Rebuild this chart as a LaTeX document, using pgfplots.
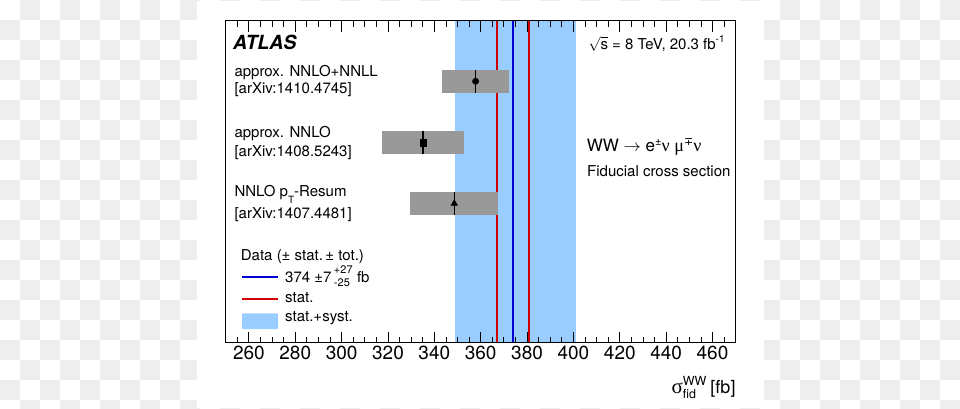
\documentclass[border=0pt]{standalone}
\usepackage{fontspec}
\setmainfont{TeX Gyre Heros}
\newfontfamily\serifsym{Liberation Serif}
\newfontfamily\dejavu{DejaVu Sans}
\usepackage{pgfplots}
\pgfplotsset{compat=1.18}
\definecolor{bandblue}{HTML}{99CCFF}
\definecolor{boxgray}{HTML}{999999}
\definecolor{rootred}{HTML}{D00000}
\definecolor{rootblue}{HTML}{0000D0}
\definecolor{checkgray}{HTML}{EEEEEE}
\newcommand{\sz}[1]{\fontsize{#1}{#1}\selectfont}
\begin{document}
\begin{tikzpicture}
\path[use as bounding box] (0pt,0pt) rectangle (960pt,408pt);
\fill[white] (0pt,0pt) rectangle (960pt,408pt);
\foreach \i in {0,...,47}{\foreach \j in {0,...,20}{%
  \pgfmathtruncatemacro\s{mod(\i+\j,2)}%
  \ifnum\s=1 \fill[checkgray] ({\i*20pt},{388pt-\j*20pt}) rectangle ++(20pt,20pt);\fi}}
\fill[white] (197pt,0pt) rectangle (764pt,407pt);
\begin{axis}[at={(225.7pt,65.3pt)}, anchor=south west, scale only axis,
  width=510pt, height=322pt,
  xmin=250, xmax=470, ymin=0, ymax=322,
  ytick=\empty, xtick={260,280,...,460}, minor xtick={250,255,...,470},
  tick align=inside, major tick length=11pt, minor tick length=6pt,
  axis on top, axis line style={line width=1pt, black},
  every tick/.style={black, line width=0.8pt},
  /pgf/number format/assume math mode=true,
  xticklabel style={font=\sz{19}},
  clip=true]
% measurement band (374 +27 -25) and stat. lines
\addplot[fill=bandblue, draw=none] coordinates {(349,0)(401,0)(401,322)(349,322)};
\addplot[rootred, line width=2pt] coordinates {(367,0)(367,322)};
\addplot[rootred, line width=2pt] coordinates {(381,0)(381,322)};
\addplot[rootblue, line width=2pt] coordinates {(374,0)(374,322)};
% theory predictions
\addplot[fill=boxgray, draw=none] coordinates {(343.4,250)(372.2,250)(372.2,272.7)(343.4,272.7)};
\addplot[fill=boxgray, draw=none] coordinates {(317.4,188.4)(352.9,188.4)(352.9,211.7)(317.4,211.7)};
\addplot[fill=boxgray, draw=none] coordinates {(329.4,127.7)(367.6,127.7)(367.6,150.7)(329.4,150.7)};
\addplot[black, line width=1.5pt] coordinates {(357.8,250)(357.8,272.7)};
\addplot[black, line width=1.5pt] coordinates {(335.2,188.4)(335.2,211.7)};
\addplot[black, line width=1.5pt] coordinates {(348.6,127.7)(348.6,150.7)};
\addplot[only marks, mark=*, mark size=3.2pt, black] coordinates {(357.8,261.4)};
\addplot[only marks, mark=square*, mark size=3.2pt, black] coordinates {(335.2,200)};
\addplot[only marks, mark=triangle*, mark size=3.8pt, black] coordinates {(348.6,139.2)};
\draw[line width=2pt] (rel axis cs:0,0) -- (rel axis cs:1,0);
\end{axis}
% texts
\node[anchor=base west, inner sep=0, font=\sz{19.5}\bfseries\itshape] at (233pt,359pt) {ATLAS};
\node[anchor=base west, inner sep=0, font=\sz{15}] at (234.3pt,331.3pt) {approx. NNLO+NNLL};
\node[anchor=base west, inner sep=0, font=\sz{15}] at (234.3pt,314.7pt) {[arXiv:1410.4745]};
\node[anchor=base west, inner sep=0, font=\sz{15}] at (234.3pt,270.3pt) {approx. NNLO};
\node[anchor=base west, inner sep=0, font=\sz{15}] at (234.3pt,252pt) {[arXiv:1408.5243]};
\node[anchor=base west, inner sep=0, font=\sz{15}] at (234.3pt,211.3pt) {NNLO p\raisebox{-6.5pt}{\sz{10}T}-Resum};
\node[anchor=base west, inner sep=0, font=\sz{15}] at (234.3pt,189.7pt) {[arXiv:1407.4481]};
\node[anchor=base west, inner sep=0, font=\sz{15}] at (588.3pt,359pt) {$\sqrt{\hbox{s}}$ = 8 TeV, 20.3 fb\raisebox{6pt}{\sz{10}-1}};
\node[anchor=base west, inner sep=0, font=\sz{17}] at (586.7pt,256.3pt) {WW $\rightarrow$ e\raisebox{6pt}{\sz{11}±}{\serifsym\sz{18}ν} {\serifsym\sz{18}μ}\raisebox{6pt}{\sz{11}\dejavu ∓}{\serifsym\sz{18}ν}};
\node[anchor=base west, inner sep=0, font=\sz{15}] at (587pt,231.3pt) {Fiducial cross section};
% legend
\node[anchor=base west, inner sep=0, font=\sz{15}] at (240.7pt,147.3pt) {Data (± stat.\,± tot.)};
\draw[rootblue, line width=2pt] (242.3pt,130.7pt) -- (277.7pt,130.7pt);
\node[anchor=base west, inner sep=0, font=\sz{15}] at (285pt,125.3pt) {374 ±7\,\makebox[0pt][l]{\raisebox{9.5pt}{\sz{11}+27}}\raisebox{-3.5pt}{\sz{11}-25}\hspace{3pt} fb};
\draw[rootred, line width=2pt] (242.3pt,108.7pt) -- (277.7pt,108.7pt);
\node[anchor=base west, inner sep=0, font=\sz{15}] at (285pt,105.3pt) {stat.};
\fill[bandblue, rounded corners=1pt] (242pt,79pt) rectangle (278pt,94.7pt);
\node[anchor=base west, inner sep=0, font=\sz{15}] at (285pt,87pt) {stat.+syst.};
% x label
\node[anchor=base east, inner sep=0, font=\sz{18}] at (735.7pt,15pt) {{\serifsym\sz{21}σ}\makebox[0pt][l]{\raisebox{-5pt}{\sz{12.5}fid}}\raisebox{8pt}{\sz{12.5}WW}\hspace{4pt}[fb]};
\end{tikzpicture}
\end{document}
